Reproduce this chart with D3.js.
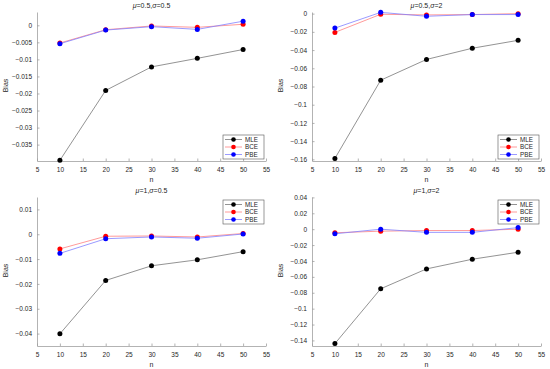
<!DOCTYPE html>
<html>
<head>
<meta charset="utf-8">
<script src="https://cdn.jsdelivr.net/npm/d3@7"></script>
<style>
    body { margin: 0; background: #fff; }
    svg { font-family: "Liberation Sans", Arial, sans-serif; }
</style>
</head>
<body>
<div id="chart"></div>
<script>
// sample sizes on the x axis
const nValues = [10, 20, 30, 40, 50];
const xTicks = [5, 10, 15, 20, 25, 30, 35, 40, 45, 50, 55];
const seriesNames = ['MLE', 'BCE', 'PBE'];

// panel 1: mu=0.5, sigma=0.5
const p1MLE = [-0.0396, -0.0191, -0.0122, -0.0097, -0.0071];
const p1BCE = [-0.0052, -0.0013, -0.0002, -0.0006, 0.0003];
const p1PBE = [-0.0054, -0.0014, -0.0004, -0.0012, 0.0012];
const p1Ticks = [0, -0.005, -0.01, -0.015, -0.02, -0.025, -0.03, -0.035];

// panel 2: mu=0.5, sigma=2
const p2MLE = [-0.1590, -0.0731, -0.0503, -0.0380, -0.0293];
const p2BCE = [-0.0206, -0.0007, -0.0014, -0.0010, 0.0000];
const p2PBE = [-0.0159, 0.0014, -0.0029, -0.0010, -0.0010];
const p2Ticks = [0, -0.02, -0.04, -0.06, -0.08, -0.1, -0.12, -0.14, -0.16];

// panel 3: mu=1, sigma=0.5
const p3MLE = [-0.0401, -0.0186, -0.0127, -0.0103, -0.0070];
const p3BCE = [-0.0059, -0.0008, -0.0007, -0.0011, 0.0003];
const p3PBE = [-0.0077, -0.0018, -0.0011, -0.0016, 0.0001];
const p3Ticks = [0.01, 0, -0.01, -0.02, -0.03, -0.04];

// panel 4: mu=1, sigma=2
const p4MLE = [-0.1440, -0.0750, -0.0500, -0.0378, -0.0290];
const p4BCE = [-0.0045, -0.0025, -0.0017, -0.0017, 0.0000];
const p4PBE = [-0.0058, 0.0000, -0.0040, -0.0040, 0.0020];
const p4Ticks = [0.04, 0.02, 0, -0.02, -0.04, -0.06, -0.08, -0.1, -0.12, -0.14];

const lineColors = { MLE: '#000000', BCE: '#ff0000', PBE: '#0000ff' };
const strokeColors = { MLE: '#777777', BCE: '#ff8080', PBE: '#8080ff' };
const axisColor = '#a0a0a0';
const textColor = '#262626';

const svg = d3.select('#chart').append('svg')
    .attr('width', 550)
    .attr('height', 369);

const panels = [
    { mu: '0.5', sigma: '0.5', left: 37, top: 12, yDomain: [-0.0398, 0.0039], ticks: p1Ticks,
      series: { MLE: p1MLE, BCE: p1BCE, PBE: p1PBE }, legend: 'bottom' },
    { mu: '0.5', sigma: '2', left: 312, top: 12, yDomain: [-0.1618, 0.0018], ticks: p2Ticks,
      series: { MLE: p2MLE, BCE: p2BCE, PBE: p2PBE }, legend: 'bottom' },
    { mu: '1', sigma: '0.5', left: 37, top: 197, yDomain: [-0.045, 0.015], ticks: p3Ticks,
      series: { MLE: p3MLE, BCE: p3BCE, PBE: p3PBE }, legend: 'top' },
    { mu: '1', sigma: '2', left: 312, top: 197, yDomain: [-0.147, 0.0405], ticks: p4Ticks,
      series: { MLE: p4MLE, BCE: p4BCE, PBE: p4PBE }, legend: 'top' }
];

const plotW = 229;
const plotH = 149;

panels.forEach(p => drawPanel(p));

function drawPanel(p) {
    const g = svg.append('g').attr('transform', `translate(${p.left},${p.top})`);

    const x = d3.scaleLinear().domain([5, 55]).range([0, plotW]);
    const y = d3.scaleLinear().domain(p.yDomain).range([plotH, 0]);

    // y axis, ticks point inward
    const yAxis = d3.axisLeft(y)
        .tickValues(p.ticks)
        .tickSizeInner(-2.5)
        .tickSizeOuter(0)
        .tickPadding(5)
        .tickFormat(d => d3.format('')(+d.toPrecision(6)));
    const ya = g.append('g').call(yAxis);
    ya.select('.domain').attr('stroke', axisColor).attr('stroke-width', 0.8);
    ya.selectAll('.tick line').attr('stroke', axisColor).attr('stroke-width', 0.8);
    ya.selectAll('.tick text').attr('fill', textColor).attr('font-size', 6.5);

    const xAxis = d3.axisBottom(x)
        .tickValues(xTicks)
        .tickSizeInner(-2.5)
        .tickSizeOuter(0)
        .tickPadding(6);
    const xa = g.append('g').attr('transform', `translate(0,${plotH})`).call(xAxis);
    xa.select('.domain').attr('stroke', axisColor).attr('stroke-width', 0.8);
    xa.selectAll('.tick line').attr('stroke', axisColor).attr('stroke-width', 0.8);
    xa.selectAll('.tick text').attr('fill', textColor).attr('font-size', 6.5);

    // axis labels
    g.append('text')
        .attr('x', plotW / 2)
        .attr('y', plotH + 21)
        .attr('text-anchor', 'middle')
        .attr('font-size', 7)
        .attr('fill', textColor)
        .text('n');

    g.append('text')
        .attr('transform', `translate(-29,${plotH / 2 - 1}) rotate(-90)`)
        .attr('text-anchor', 'middle')
        .attr('font-size', 7)
        .attr('fill', textColor)
        .text('Bias');

    // title with italic greek letters
    const title = g.append('text')
        .attr('x', plotW / 2)
        .attr('y', -4.5)
        .attr('text-anchor', 'middle')
        .attr('font-size', 7)
        .attr('fill', textColor);
    title.append('tspan').attr('font-style', 'italic').text('\u03bc');
    title.append('tspan').text(`=${p.mu},`);
    title.append('tspan').attr('font-style', 'italic').text('\u03c3');
    title.append('tspan').text(`=${p.sigma}`);

    const line = d3.line()
        .x((d, i) => x(nValues[i]))
        .y(d => y(d));

    seriesNames.forEach(name => {
        const vals = p.series[name];
        g.append('path')
            .datum(vals)
            .attr('fill', 'none')
            .attr('stroke', strokeColors[name])
            .attr('stroke-width', 0.8)
            .attr('d', line);
        g.selectAll(null)
            .data(vals)
            .enter()
            .append('circle')
            .attr('cx', (d, i) => x(nValues[i]))
            .attr('cy', d => y(d))
            .attr('r', 2.5)
            .attr('fill', lineColors[name]);
    });

    // legend box
    const lw = 41, lh = 24;
    const lx = plotW - lw - 2;
    const ly = p.legend === 'bottom' ? plotH - lh - 2 : 3;
    const lg = g.append('g').attr('transform', `translate(${lx},${ly})`);
    lg.append('rect')
        .attr('width', lw)
        .attr('height', lh)
        .attr('fill', '#fff')
        .attr('stroke', '#555')
        .attr('stroke-width', 0.6);
    seriesNames.forEach((name, i) => {
        const cy = 4.5 + i * 7.5;
        lg.append('line')
            .attr('x1', 2).attr('x2', 19)
            .attr('y1', cy).attr('y2', cy)
            .attr('stroke', strokeColors[name])
            .attr('stroke-width', 0.8);
        lg.append('circle')
            .attr('cx', 10.5).attr('cy', cy).attr('r', 2.3)
            .attr('fill', lineColors[name]);
        lg.append('text')
            .attr('x', 22).attr('y', cy + 2.2)
            .attr('font-size', 6.3)
            .attr('fill', textColor)
            .text(name);
    });
}
</script>
</body>
</html>
